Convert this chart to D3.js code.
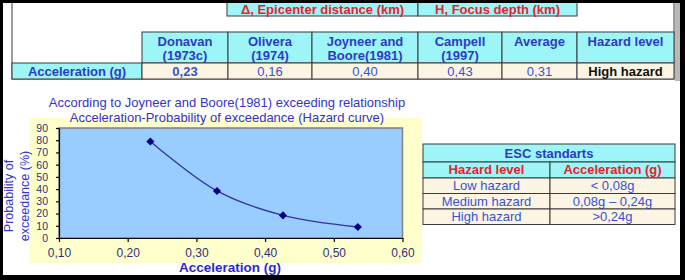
<!DOCTYPE html>
<html>
<head>
<meta charset="utf-8">
<script src="https://cdn.jsdelivr.net/npm/d3@7"></script>
<style>
  body { margin: 0; background: #ffffff; }
  svg { display: block; font-family: "Liberation Sans", Arial, sans-serif; }
</style>
</head>
<body>
<div id="container"></div>
<script>
// DATA ###############################
const groupHeaders = ["\u0394, Epicenter distance (km)", "H, Focus depth (km)"];
const methodLines = [["Donavan", "(1973c)"], ["Olivera", "(1974)"], ["Joyneer and", "Boore(1981)"],
  ["Campell", "(1997)"], ["Average"], ["Hazard level"]];
const rowLabel = "Acceleration (g)";
const accelValues = ["0,23", "0,16", "0,40", "0,43", "0,31", "High hazard"];

const curveAccel = [0.233, 0.33, 0.426, 0.535];
const curveProb = [79, 38.5, 18.5, 9];
const xTicks = [0.1, 0.2, 0.3, 0.4, 0.5, 0.6];
const xTickLabels = ["0,10", "0,20", "0,30", "0,40", "0,50", "0,60"];
const yTicks = [0, 10, 20, 30, 40, 50, 60, 70, 80, 90];

const escTitle = "ESC standarts";
const escHeaders = ["Hazard level", "Acceleration (g)"];
const escLevels = ["Low hazard", "Medium hazard", "High hazard"];
const escRanges = ["< 0,08g", "0,08g \u2013 0,24g", ">0,24g"];

// CONSTANTS ###############################
const width = 685, height = 280;
const cyan = "#9ef5f8", cream = "#fdf5e4", border = "#3a3a3a";
const blueBold = "#2b3cc4", blueText = "#3552d2", red = "#e8212b";

const svg = d3.select("#container").append("svg")
  .attr("width", width).attr("height", height);

svg.append("rect").attr("width", width).attr("height", height).attr("fill", "#fff");

// TOP TABLE ###############################
const colEdges = [12, 142, 228, 312, 418, 502, 577, 674];

svg.append("rect").attr("x", 12).attr("y", -1).attr("width", 662).attr("height", 80)
  .attr("fill", "#fff").attr("stroke", border).attr("stroke-width", 1);

function cell(x0, x1, y0, y1, fill) {
  svg.append("rect").attr("x", x0).attr("y", y0).attr("width", x1 - x0).attr("height", y1 - y0)
    .attr("fill", fill).attr("stroke", border).attr("stroke-width", 1);
}
function label(x, y, txt, color, weight, size) {
  svg.append("text").attr("x", x).attr("y", y).attr("text-anchor", "middle")
    .attr("dy", "0.35em").attr("fill", color).attr("font-weight", weight || "normal")
    .attr("font-size", size || 13).text(txt);
}

// group header row
const groupEdges = [227, 418, 577];
groupHeaders.forEach((h, i) => {
  cell(groupEdges[i], groupEdges[i + 1], -2, 16, cyan);
  label((groupEdges[i] + groupEdges[i + 1]) / 2, 9, h, red, "bold");
});

// method header row
methodLines.forEach((lines, i) => {
  const x0 = colEdges[i + 1], x1 = colEdges[i + 2];
  cell(x0, x1, 32, 63, cyan);
  lines.forEach((ln, j) => label((x0 + x1) / 2, 41 + j * 14.5, ln, blueBold, "bold"));
});

// value row
cell(colEdges[0], colEdges[1], 63, 79, cyan);
label((colEdges[0] + colEdges[1]) / 2, 71.5, rowLabel, blueBold, "bold");
accelValues.forEach((v, i) => {
  const x0 = colEdges[i + 1], x1 = colEdges[i + 2];
  cell(x0, x1, 63, 79, cream);
  const isLast = i === accelValues.length - 1;
  label((x0 + x1) / 2, 71.5, v, isLast ? "#111" : blueText, (i === 0 || isLast) ? "bold" : "normal");
});

// HAZARD CURVE ###############################
const chartBox = { x: 29, y: 118, w: 393, h: 145 };
const plot = { left: 59, right: 402.5, top: 128, bottom: 238 };

svg.append("rect").attr("x", chartBox.x).attr("y", chartBox.y)
  .attr("width", chartBox.w).attr("height", chartBox.h).attr("fill", "#ffffcc");

const xScale = d3.scaleLinear().domain([0.1, 0.6]).range([plot.left, plot.right]);
const yScale = d3.scaleLinear().domain([0, 90]).range([plot.bottom, plot.top]);

svg.append("rect").attr("x", plot.left).attr("y", plot.top)
  .attr("width", plot.right - plot.left).attr("height", plot.bottom - plot.top)
  .attr("fill", "#99ccff").attr("stroke", "#808080").attr("stroke-width", 1.5);

const xAxis = svg.append("g").attr("transform", `translate(0,${plot.bottom})`)
  .call(d3.axisBottom(xScale).tickValues(xTicks)
    .tickFormat((d, i) => xTickLabels[i]).tickSizeInner(4).tickSizeOuter(0).tickPadding(6));
const yAxis = svg.append("g").attr("transform", `translate(${plot.left},0)`)
  .call(d3.axisLeft(yScale).tickValues(yTicks).tickSizeInner(3).tickSizeOuter(0).tickPadding(8));

[xAxis, yAxis].forEach(a => {
  a.selectAll("path, line").attr("stroke", "#000").attr("stroke-width", 1.2);
  a.selectAll("text").attr("font-size", 12).attr("fill", "#30307a")
    .attr("font-family", "'Liberation Sans', Arial, sans-serif");
});
yAxis.selectAll("text").attr("font-size", 10.5);

const points = curveAccel.map((a, i) => ({ a, p: curveProb[i] }));

svg.append("path").datum(points)
  .attr("fill", "none").attr("stroke", "#333399").attr("stroke-width", 1.3)
  .attr("d", d3.line().x(d => xScale(d.a)).y(d => yScale(d.p)).curve(d3.curveCatmullRom.alpha(0.5)));

svg.selectAll("path.marker").data(points).join("path")
  .attr("class", "marker")
  .attr("transform", d => `translate(${xScale(d.a)},${yScale(d.p)})`)
  .attr("d", d3.symbol(d3.symbolDiamond2, 42))
  .attr("fill", "#000080");

// titles
label(227, 102, "According to Joyneer and Boore(1981) exceeding relationship", "#3434c8", "normal", 13);
label(227, 117, "Acceleration-Probability of exceedance (Hazard curve)", "#3434c8", "normal", 13);
label(230, 267, "Acceleration (g)", "#2b2bc4", "bold", 13.5);

const yTitle = svg.append("text")
  .attr("transform", "translate(9,196) rotate(-90)")
  .attr("text-anchor", "middle").attr("fill", "#3535d0").attr("font-size", 12.5);
yTitle.append("tspan").attr("x", 0).attr("dy", "0.35em").text("Probability of");
yTitle.append("tspan").attr("x", 0).attr("dy", 15.5).text("exceedance (%)");

// ESC TABLE ###############################
const escX = [423, 550, 675];
cell(escX[0], escX[2], 144, 162, cyan);
label((escX[0] + escX[2]) / 2, 153, escTitle, blueBold, "bold");
escHeaders.forEach((h, i) => {
  cell(escX[i], escX[i + 1], 162, 178, cyan);
  label((escX[i] + escX[i + 1]) / 2, 169.5, h, red, "bold");
});
escLevels.forEach((lvl, r) => {
  const y0 = 178 + r * 15.5;
  [lvl, escRanges[r]].forEach((t, i) => {
    cell(escX[i], escX[i + 1], y0, y0 + 15.5, cream);
    label((escX[i] + escX[i + 1]) / 2, y0 + 7.5, t, blueText, "normal");
  });
});

// FRAME ###############################
svg.append("rect").attr("x", 675).attr("y", 0).attr("width", 5).attr("height", 81).attr("fill", "#b8b8b8");
svg.append("rect").attr("x", 0).attr("y", 0).attr("width", width).attr("height", 3).attr("fill", "#000");
svg.append("rect").attr("x", 0).attr("y", 0).attr("width", 3).attr("height", height).attr("fill", "#000");
svg.append("rect").attr("x", 680).attr("y", 0).attr("width", 5).attr("height", height).attr("fill", "#000");
svg.append("rect").attr("x", 0).attr("y", 275).attr("width", width).attr("height", 5).attr("fill", "#000");
</script>
</body>
</html>
